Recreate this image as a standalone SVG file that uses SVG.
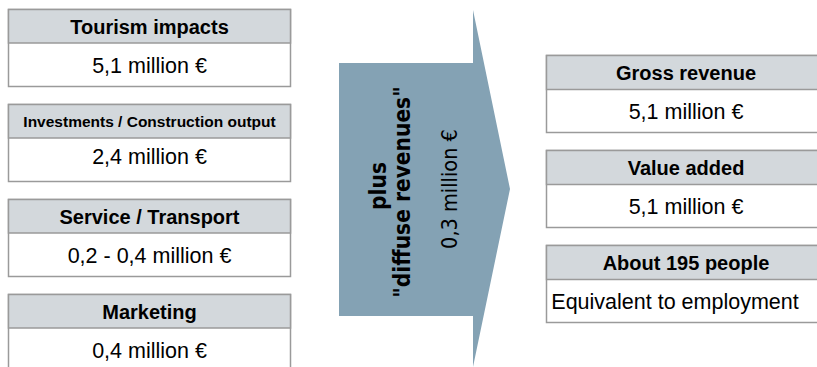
<svg xmlns="http://www.w3.org/2000/svg" width="817" height="367" viewBox="0 0 817 367">
  <style>
    .box { fill: #ffffff; stroke: #9a9a9a; stroke-width: 1.5; }
    .head { fill: #d3d8dc; stroke: #9a9a9a; stroke-width: 1.5; }
    .ht { font-family: "Liberation Sans", Arial, sans-serif; font-weight: bold; font-size: 20px; fill: #000; text-anchor: middle; }
    .vt { font-family: "Liberation Sans", Arial, sans-serif; font-size: 21.5px; fill: #000; text-anchor: middle; }
    .at { font-family: "DejaVu Sans", sans-serif; font-size: 21.5px; fill: #000; text-anchor: middle; font-stretch: condensed; }
  </style>

  <!-- input blocks -->
  <g id="tourism-impacts">
    <rect class="box" x="8.5" y="9.5" width="282" height="77"/>
    <rect class="head" x="8.5" y="9.5" width="282" height="33.5"/>
    <text class="ht" x="149.5" y="33.5">Tourism impacts</text>
    <text class="vt" x="149.5" y="72.5">5,1 million €</text>
  </g>
  <g id="investments">
    <rect class="box" x="8.5" y="104.5" width="282" height="77"/>
    <rect class="head" x="8.5" y="104.5" width="282" height="33.5"/>
    <text class="ht" x="149.5" y="126.5" style="font-size:15.5px">Investments / Construction output</text>
    <text class="vt" x="149.5" y="164">2,4 million €</text>
  </g>
  <g id="service-transport">
    <rect class="box" x="8.5" y="199.5" width="282" height="77"/>
    <rect class="head" x="8.5" y="199.5" width="282" height="33.5"/>
    <text class="ht" x="149.5" y="223.5">Service / Transport</text>
    <text class="vt" x="149.5" y="262.5">0,2 - 0,4 million €</text>
  </g>
  <g id="marketing">
    <rect class="box" x="8.5" y="294.5" width="282" height="77"/>
    <rect class="head" x="8.5" y="294.5" width="282" height="33.5"/>
    <text class="ht" x="149.5" y="318.5">Marketing</text>
    <text class="vt" x="149.5" y="357.5">0,4 million €</text>
  </g>

  <!-- block arrow carrying the diffuse revenues -->
  <g id="connectors">
    <polygon points="339,63 473,63 473,10 510,189 473,367 473,316 339,316" fill="#84a2b4"/>
    <text class="at" transform="translate(386,186) rotate(-90)" font-weight="bold" style="font-size:22.5px">plus</text>
    <text class="at" transform="translate(410,192) rotate(-90)" font-weight="bold" style="font-size:22.5px">"diffuse revenues"</text>
    <text class="at" transform="translate(457,189) rotate(-90)">0,3 million €</text>
  </g>

  <!-- result blocks -->
  <g id="gross-revenue">
    <rect class="box" x="546.5" y="55.5" width="282" height="77"/>
    <rect class="head" x="546.5" y="55.5" width="282" height="34"/>
    <text class="ht" x="686" y="80">Gross revenue</text>
    <text class="vt" x="686" y="118.5">5,1 million €</text>
  </g>
  <g id="value-added">
    <rect class="box" x="546.5" y="150.5" width="282" height="77"/>
    <rect class="head" x="546.5" y="150.5" width="282" height="34"/>
    <text class="ht" x="686" y="175">Value added</text>
    <text class="vt" x="686" y="213.5">5,1 million €</text>
  </g>
  <g id="employment">
    <rect class="box" x="546.5" y="245.5" width="282" height="77"/>
    <rect class="head" x="546.5" y="245.5" width="282" height="34"/>
    <text class="ht" x="686" y="270">About 195 people</text>
    <text class="vt" x="675" y="308.5">Equivalent to employment</text>
  </g>
</svg>
